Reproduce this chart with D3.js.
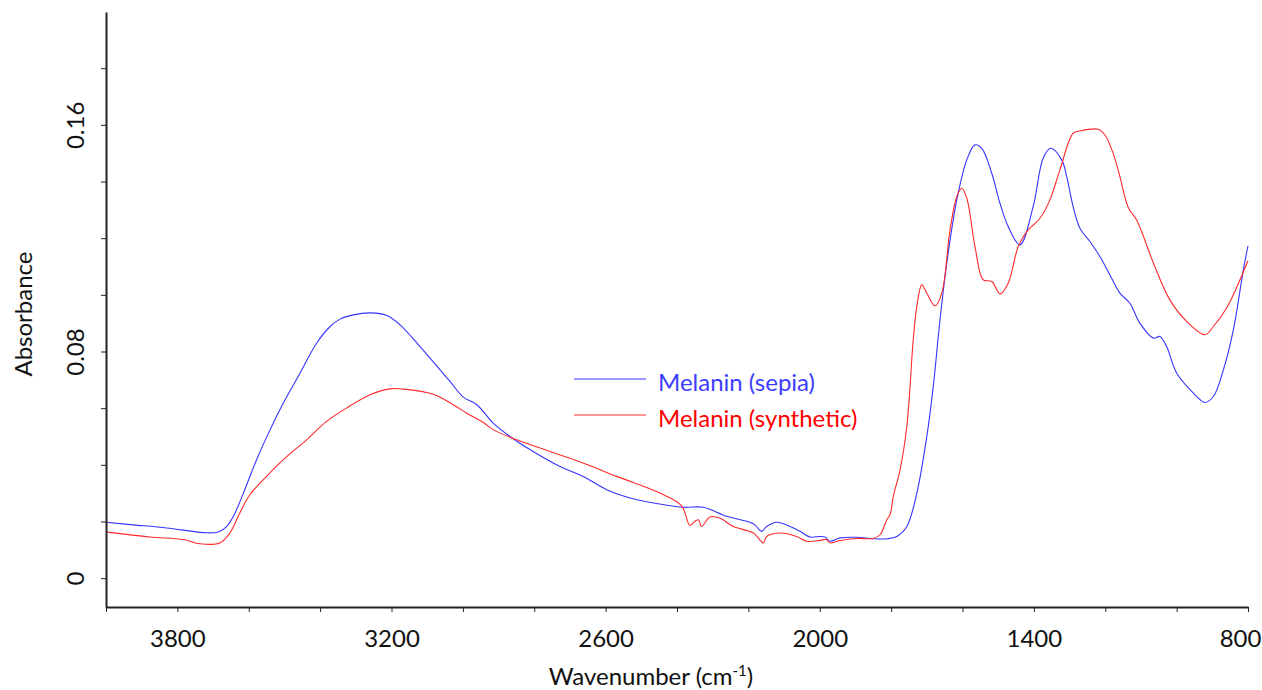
<!DOCTYPE html>
<html>
<head>
<meta charset="UTF-8">
<script src="https://d3js.org/d3.v7.min.js"></script>
<style>
body{ margin:0; background:white; font-family: Lato, "Open Sans", sans-serif; }
.axis path, .axis line{ stroke:#222; }
.axis text{ font-family: Lato, sans-serif; font-size:24px; fill:#111; }
</style>
</head>
<body>
<svg width="1262" height="690"></svg>
<script>
// wavenumber (cm-1) and absorbance
const sepiaWave = [4000,3924,3830,3718,3685,3662,3643,3615,3578,3540,3503,3456,3410,3372,3344,3307,3260,3213,3176,3120,3064,3036,2999,2961,2915,2868,2803,2728,2663,2597,2541,2466,2382,2326,2261,2186,2163,2149,2121,2083,2055,2027,1999,1985,1971,1943,1896,1850,1812,1784,1756,1728,1700,1682,1663,1644,1616,1588,1565,1546,1518,1495,1472,1439,1402,1374,1353,1322,1308,1290,1271,1243,1215,1187,1159,1131,1103,1065,1047,1028,1000,953,921,897,869,841,813,800]
const sepiaAbs  = [0.0199,0.0190,0.0179,0.0162,0.0165,0.0184,0.0220,0.0302,0.0420,0.0526,0.0620,0.0726,0.0831,0.0890,0.0916,0.0931,0.0938,0.0929,0.0896,0.0819,0.0737,0.0696,0.0641,0.0614,0.0549,0.0502,0.0449,0.0396,0.0361,0.0314,0.0288,0.0267,0.0252,0.0252,0.0220,0.0194,0.0167,0.0184,0.0199,0.0184,0.0167,0.0147,0.0149,0.0147,0.0132,0.0144,0.0146,0.0141,0.0141,0.0149,0.0184,0.0302,0.0502,0.0678,0.0914,0.1114,0.1337,0.1478,0.1531,0.1519,0.1431,0.1325,0.1243,0.1178,0.1313,0.1484,0.1519,0.1478,0.1419,0.1313,0.1237,0.1190,0.1137,0.1072,0.1008,0.0972,0.0902,0.0849,0.0855,0.0819,0.0726,0.0655,0.0622,0.0643,0.0737,0.0878,0.1090,0.1175]

const synthWave = [4000,3877,3783,3737,3681,3653,3625,3597,3550,3503,3438,3382,3326,3260,3204,3167,3083,3027,2989,2943,2915,2849,2756,2663,2569,2448,2387,2364,2350,2340,2331,2308,2280,2242,2186,2158,2149,2111,2065,2037,1999,1981,1971,1943,1896,1850,1831,1812,1803,1794,1775,1756,1738,1728,1714,1700,1677,1658,1635,1616,1602,1588,1565,1542,1518,1495,1472,1444,1420,1383,1355,1327,1290,1271,1220,1201,1178,1159,1135,1112,1065,1019,972,921,897,860,800]
const synthAbs  = [0.0165,0.0147,0.0138,0.0123,0.0126,0.0161,0.0232,0.0296,0.0361,0.0420,0.0490,0.0555,0.0602,0.0649,0.0670,0.0669,0.0651,0.0614,0.0584,0.0551,0.0526,0.0490,0.0449,0.0408,0.0361,0.0302,0.0257,0.0188,0.0202,0.0208,0.0184,0.0218,0.0214,0.0184,0.0161,0.0126,0.0149,0.0161,0.0149,0.0132,0.0135,0.0138,0.0126,0.0135,0.0142,0.0142,0.0155,0.0208,0.0226,0.0290,0.0384,0.0537,0.0843,0.0961,0.1037,0.1008,0.0963,0.1008,0.1231,0.1349,0.1378,0.1343,0.1172,0.1055,0.1049,0.1005,0.1043,0.1172,0.1225,0.1272,0.1337,0.1443,0.1572,0.1580,0.1586,0.1566,0.1502,0.1419,0.1308,0.1266,0.1114,0.0984,0.0908,0.0861,0.0890,0.0955,0.1122]

const seriesNames = ["Melanin (sepia)", "Melanin (synthetic)"]
const xTickLabels = [3800, 3200, 2600, 2000, 1400, 800]
const yTickLabels = [0, 0.08, 0.16]

const svg = d3.select("svg")
const mLeft = 106, mRight = 1248, mTop = 12, mBottom = 607

const x = d3.scaleLinear().domain([4000, 800]).range([mLeft, mRight])
const y = d3.scaleLinear().domain([-0.01, 0.2]).range([mBottom, mTop])

const colors = ["#3535ff", "#ff2a2a"]
const textColors = ["#3c3cff", "#ff0000"]

// lines
const line = d3.line()
  .x(function(d){ return x(d[0]) })
  .y(function(d){ return y(d[1]) })
  .curve(d3.curveCatmullRom.alpha(0.5))

const series = [
  d3.zip(sepiaWave, sepiaAbs),
  d3.zip(synthWave, synthAbs)
]

svg.selectAll(".spec")
  .data(series)
  .join("path")
  .attr("class", "spec")
  .attr("d", line)
  .style("fill", "none")
  .style("stroke", function(d,i){ return colors[i] })
  .style("stroke-width", 1.1)

// x axis: minor ticks every 200, labels every 600
const xAxis = d3.axisBottom(x)
  .tickValues(d3.range(4000, 799, -200))
  .tickSize(5)
  .tickSizeOuter(0)
  .tickFormat(function(d){ return xTickLabels.indexOf(d) != -1 ? d : "" })

const gx = svg.append("g").attr("class", "axis")
  .attr("transform", "translate(0," + mBottom + ")")
  .call(xAxis)
gx.select(".domain").style("stroke-width", 2)
gx.selectAll("text").attr("dy", "1.33em")
// last label sits a little inside the frame, as in the original
gx.selectAll("text").filter(function(d){ return d == 800 }).attr("x", -8)

// y axis: ticks every 0.02, rotated labels
const yAxis = d3.axisLeft(y)
  .tickValues(d3.range(0, 0.19, 0.02))
  .tickSize(5)
  .tickSizeOuter(0)
  .tickFormat(function(d){
    let v = Math.round(d*100)/100
    return yTickLabels.indexOf(v) != -1 ? (v == 0 ? "0" : d3.format(".2f")(v)) : ""
  })

const gy = svg.append("g").attr("class", "axis")
  .attr("transform", "translate(" + mLeft + ",0)")
  .call(yAxis)
gy.select(".domain").style("stroke-width", 2)
gy.selectAll("text")
  .attr("x", 0).attr("dy", 0)
  .attr("transform", function(d){ return "translate(-28," + y(d) + ") rotate(-90)" })
  .attr("y", 0)
  .style("text-anchor", "middle")
  .attr("dominant-baseline", "middle")
gy.selectAll(".tick").attr("transform", null)
gy.selectAll(".tick line").attr("transform", function(d){ return "translate(0," + y(d) + ")" })

// axis titles
svg.append("text")
  .attr("transform", "translate(32," + 314 + ") rotate(-90)")
  .style("text-anchor", "middle")
  .style("font-size", "24px")
  .style("fill", "#111")
  .text("Absorbance")

const xt = svg.append("text")
  .attr("x", 651).attr("y", 685)
  .style("text-anchor", "middle")
  .style("font-size", "24px")
  .style("fill", "#111")
xt.append("tspan").text("Wavenumber  (cm")
xt.append("tspan").attr("dy", -9).style("font-size", "15px").text("-1")
xt.append("tspan").attr("dy", 9).text(")")

// legend
const legend = svg.append("g").attr("transform", "translate(574,379)")
legend.selectAll("line")
  .data(seriesNames)
  .join("line")
  .attr("x1", 0).attr("x2", 72)
  .attr("y1", function(d,i){ return i*36 }).attr("y2", function(d,i){ return i*36 })
  .style("stroke", function(d,i){ return colors[i] })
  .style("stroke-width", 1.2)
legend.selectAll("text")
  .data(seriesNames)
  .join("text")
  .attr("x", 84)
  .attr("y", function(d,i){ return i*36 + 12 })
  .style("font-size", "24px")
  .style("fill", function(d,i){ return textColors[i] })
  .text(function(d){ return d })
</script>
</body>
</html>
